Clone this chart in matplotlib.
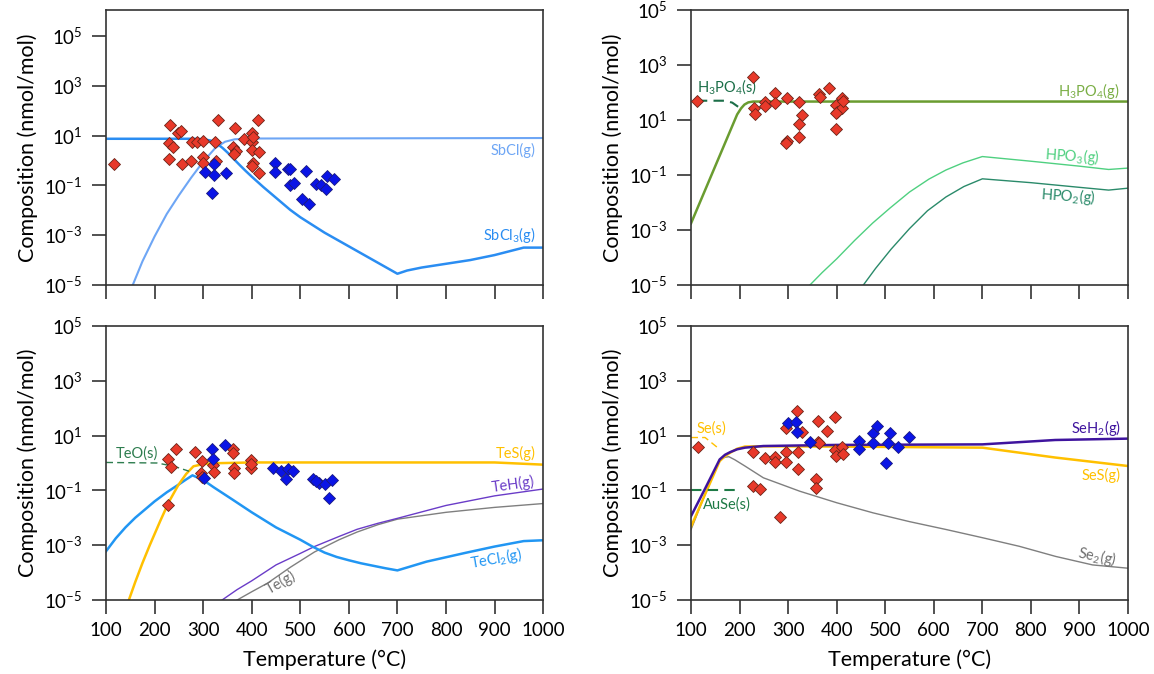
import numpy as np
import matplotlib
matplotlib.use("Agg")
import matplotlib.pyplot as plt
from matplotlib.ticker import NullLocator

plt.rcParams['font.family'] = ['Lato', 'DejaVu Sans']
plt.rcParams['mathtext.fontset'] = 'custom'
plt.rcParams['mathtext.rm'] = 'Lato'
plt.rcParams['mathtext.it'] = 'Lato:italic'
plt.rcParams['mathtext.bf'] = 'Lato:bold'

# ---- values (composition given as log10 nmol/mol) ----
# Sb panel
sbcl3_T = [100, 280, 300, 315, 328, 340, 350, 363, 376, 388, 400, 424, 450, 479, 500, 550, 600, 650, 700, 720, 750, 800, 850, 900, 960, 1000]
sbcl3_log = [0.87, 0.87, 0.85, 0.8, 0.68, 0.5, 0.32, 0.06, -0.2, -0.43, -0.65, -1.07, -1.5, -1.98, -2.28, -2.9, -3.45, -4.0, -4.55, -4.42, -4.3, -4.15, -4.0, -3.8, -3.5, -3.5]
sbcl_T = [155, 175, 200, 225, 250, 275, 300, 325, 345, 365, 400, 1000]
sbcl_log = [-5, -4.05, -3.05, -2.15, -1.4, -0.7, -0.05, 0.5, 0.75, 0.85, 0.88, 0.9]
sb_red_T = [117, 232, 248, 254, 230, 237, 230, 256, 275, 276, 288, 300, 300, 300, 325, 327, 331, 366, 362, 367, 364, 385, 401, 400, 412, 401, 416, 402, 401, 416, 402]
sb_red_log = [-0.16, 1.43, 1.09, 1.2, 0.69, 0.53, 0.07, -0.13, -0.03, 0.75, 0.73, 0.8, 0.13, -0.11, 0.73, -0.04, 1.63, 1.31, 0.53, 0.37, 0.24, 0.87, 1.09, 0.76, 1.63, 0.43, 0.33, -0.11, -0.21, -0.49, 0.95]
sb_blue_T = [304, 323, 322, 347, 319, 448, 448, 474, 478, 479, 488, 511, 504, 517, 532, 543, 554, 570, 552]
sb_blue_log = [-0.47, -0.13, -0.6, -0.51, -1.29, -0.09, -0.47, -0.36, -0.36, -0.97, -0.89, -0.44, -1.56, -1.73, -0.96, -1.0, -0.64, -0.73, -1.13]

# P panel
h3po4g_T = [100, 195, 203, 210, 218, 228, 1000]
h3po4g_log = [-2.76, 1.2, 1.42, 1.56, 1.64, 1.67, 1.67]
h3po4s_T = [112, 170, 185, 197]
h3po4s_log = [1.7, 1.7, 1.63, 1.48]
hpo3_T = [345, 370, 400, 437, 474, 510, 550, 590, 625, 660, 700, 800, 900, 960, 1000]
hpo3_log = [-5, -4.55, -4.05, -3.38, -2.75, -2.2, -1.62, -1.15, -0.82, -0.56, -0.33, -0.5, -0.68, -0.8, -0.75]
hpo2_T = [455, 480, 512, 550, 587, 625, 662, 700, 800, 900, 960, 1000]
hpo2_log = [-5, -4.4, -3.7, -2.95, -2.3, -1.8, -1.42, -1.14, -1.28, -1.45, -1.55, -1.48]
p_red_T = [113, 228, 230, 232, 252, 253, 273, 273, 297, 322, 329, 322, 297, 296, 322, 364, 365, 384, 399, 400, 410, 411, 413, 398, 398]
p_red_log = [1.7, 2.57, 1.42, 1.22, 1.67, 1.52, 1.97, 1.61, 1.79, 1.64, 1.18, 0.85, 0.25, 0.17, 0.37, 1.95, 1.85, 2.16, 1.55, 1.3, 1.42, 1.81, 1.7, 0.67, 1.25]

# Te panel
tes_T = [147, 160, 175, 190, 212, 230, 249, 265, 280, 300, 320, 400, 900, 1000]
tes_log = [-5, -4.35, -3.65, -3.0, -2.1, -1.4, -0.8, -0.4, -0.12, -0.04, -0.01, 0.02, 0.02, -0.06]
teo_T = [100, 205, 240, 271]
teo_log = [0.02, 0.0, -0.12, -0.3]
tecl2_T = [100, 120, 140, 160, 180, 200, 225, 250, 265, 278, 300, 322, 360, 400, 450, 500, 525, 550, 575, 600, 625, 650, 675, 700, 760, 840, 900, 960, 1000]
tecl2_log = [-3.22, -2.75, -2.35, -2.0, -1.7, -1.4, -1.07, -0.78, -0.6, -0.45, -0.62, -0.89, -1.33, -1.8, -2.35, -2.8, -3.05, -3.27, -3.43, -3.55, -3.66, -3.75, -3.84, -3.92, -3.6, -3.28, -3.05, -2.85, -2.82]
teh_T = [339, 370, 400, 450, 500, 529, 580, 617, 660, 700, 800, 900, 1000]
teh_log = [-5, -4.62, -4.3, -3.72, -3.3, -3.05, -2.68, -2.42, -2.2, -2.02, -1.55, -1.2, -0.95]
te_T = [370, 400, 433, 480, 529, 580, 617, 660, 700, 800, 900, 1000]
te_log = [-5, -4.7, -4.38, -3.8, -3.25, -2.8, -2.52, -2.25, -2.05, -1.8, -1.62, -1.48]
te_red_T = [244, 228, 234, 283, 297, 296, 298, 321, 322, 361, 361, 364, 364, 398, 398, 228, 399]
te_red_log = [0.5, 0.15, -0.16, 0.39, 0.07, -0.35, -0.52, -0.07, -0.32, 0.5, 0.38, -0.19, -0.38, 0.11, -0.19, -1.53, -0.05]
te_blue_T = [318, 321, 345, 302, 443, 460, 475, 484, 470, 527, 539, 550, 565, 559, 533]
te_blue_log = [0.51, 0.15, 0.66, -0.54, -0.19, -0.28, -0.23, -0.28, -0.59, -0.58, -0.74, -0.78, -0.62, -1.28, -0.67]

# Se panel
seh2_T = [100, 130, 159, 170, 181, 195, 211, 249, 400, 700, 850, 1000]
seh2_log = [-1.94, -0.9, 0.13, 0.3, 0.4, 0.5, 0.56, 0.62, 0.66, 0.68, 0.84, 0.89]
ses_T = [100, 130, 159, 170, 181, 195, 211, 249, 400, 700, 850, 1000]
ses_log = [-2.33, -1.1, 0.07, 0.25, 0.38, 0.52, 0.6, 0.61, 0.6, 0.56, 0.2, -0.11]
se2_T = [100, 130, 159, 170, 178, 190, 211, 249, 324, 400, 475, 550, 626, 701, 776, 851, 927, 1000]
se2_log = [-2.43, -1.1, 0.13, 0.21, 0.23, 0.12, -0.11, -0.54, -1.03, -1.45, -1.82, -2.14, -2.43, -2.73, -3.04, -3.41, -3.72, -3.84]
ses_solid_T = [100, 129, 157]
ses_solid_log = [0.93, 0.93, 0.53]
ause_T = [100, 193]
ause_log = [-1.0, -1.0]
se_red_T = [115, 227, 227, 242, 252, 272, 272, 283, 296, 296, 296, 319, 321, 321, 328, 357, 358, 362, 362, 363, 381, 396, 397, 398, 411, 412]
se_red_log = [0.59, 0.39, -0.84, -0.95, 0.19, 0.23, 0.03, -1.98, 1.27, 0.39, 0.05, 1.91, 0.39, -0.22, 1.14, -0.58, -0.92, 1.54, 0.78, 0.72, 1.17, 1.69, 0.47, 0.26, 0.59, 0.33]
se_blue_T = [300, 316, 319, 345, 445, 445, 474, 474, 484, 510, 506, 502, 527, 548]
se_blue_log = [1.45, 1.51, 1.14, 0.78, 0.81, 0.5, 1.08, 0.74, 1.36, 1.08, 0.72, -0.01, 0.59, 0.94]

xticks = [100, 200, 300, 400, 500, 600, 700, 800, 900, 1000]
yticks = [1e-5, 1e-3, 1e-1, 1e1, 1e3, 1e5]

RED = "#e8392a"
BLUE = "#0a14e6"
FS = 10.5  # curve labels


def v(a):
    return 10 ** np.array(a)


def style(ax, top, xlabels):
    ax.set_yscale('log')
    ax.set_xlim(100, 1000)
    ax.set_ylim(1e-5, top)
    ax.set_xticks(xticks)
    ax.set_yticks(yticks)
    ax.yaxis.set_minor_locator(NullLocator())
    ax.tick_params(direction='out', length=10, width=1.2, color='#333333')
    ax.tick_params(axis='x', labelsize=13.5, pad=6)
    ax.tick_params(axis='y', labelsize=13.5, pad=7)
    for s in ax.spines.values():
        s.set_color('#333333')
        s.set_linewidth(1.2)
    ax.set_ylabel("Composition (nmol/mol)", fontsize=15.5, labelpad=4)
    if xlabels:
        ax.set_xlabel("Temperature (°C)", fontsize=15.5, labelpad=7)
    else:
        ax.set_xticklabels([])


def points(ax, T, lg, color, edge):
    ax.plot(T, v(lg), linestyle='none', marker='D', markersize=6.2,
            markerfacecolor=color, markeredgecolor=edge, markeredgewidth=0.6, zorder=5)


fig = plt.figure(figsize=(11.54, 6.74), dpi=100)
ax1 = fig.add_axes([0.0919, 0.5772, 0.3787, 0.408])
ax2 = fig.add_axes([0.5988, 0.5772, 0.3787, 0.408])
ax3 = fig.add_axes([0.0919, 0.1098, 0.3787, 0.4065])
ax4 = fig.add_axes([0.5988, 0.1098, 0.3787, 0.4065])

# Sb
ax1.plot(sbcl_T, v(sbcl_log), color="#6ea6f5", lw=1.5)
ax1.plot(sbcl3_T, v(sbcl3_log), color="#2a8df2", lw=1.8)
points(ax1, sb_red_T, sb_red_log, RED, "#6b2318")
points(ax1, sb_blue_T, sb_blue_log, BLUE, "#1a1a80")
ax1.text(985, 10 ** 0.4, "SbCl(g)", color="#6ea6f5", fontsize=FS, ha='right', va='center')
ax1.text(985, 10 ** -3.0, "SbCl$_3$(g)", color="#2a8df2", fontsize=FS, ha='right', va='center')
style(ax1, 1.1e6, False)

# P
ax2.plot(hpo3_T, v(hpo3_log), color="#4fd080", lw=1.0)
ax2.plot(hpo2_T, v(hpo2_log), color="#2a8a6a", lw=1.0)
ax2.plot(h3po4g_T, v(h3po4g_log), color="#6a9c30", lw=1.8)
ax2.plot(h3po4s_T, v(h3po4s_log), color="#1b6e48", lw=1.5, dashes=(5, 3))
points(ax2, p_red_T, p_red_log, RED, "#6b2318")
ax2.text(112, 10 ** 2.2, "H$_3$PO$_4$(s)", color="#1b6e48", fontsize=FS, ha='left', va='center')
ax2.text(982, 10 ** 2.07, "H$_3$PO$_4$(g)", color="#7aae45", fontsize=FS, ha='right', va='center')
ax2.text(942, 10 ** -0.32, "HPO$_3$(g)", color="#4fd080", fontsize=FS, ha='right', va='center', rotation=-4)
ax2.text(934, 10 ** -1.75, "HPO$_2$(g)", color="#2a8a6a", fontsize=FS, ha='right', va='center', rotation=-4)
style(ax2, 1e5, False)

# Te
ax3.plot(te_T, v(te_log), color="#7f7f7f", lw=1.0)
ax3.plot(teh_T, v(teh_log), color="#6a3cc8", lw=1.0)
ax3.plot(tecl2_T, v(tecl2_log), color="#2196f3", lw=1.8)
ax3.plot(tes_T, v(tes_log), color="#ffc000", lw=1.8)
ax3.plot(teo_T, v(teo_log), color="#2e7d4f", lw=1.0, dashes=(5, 3))
points(ax3, te_red_T, te_red_log, RED, "#6b2318")
points(ax3, te_blue_T, te_blue_log, BLUE, "#1a1a80")
ax3.text(120, 10 ** 0.35, "TeO(s)", color="#2e7d4f", fontsize=FS, ha='left', va='center')
ax3.text(985, 10 ** 0.35, "TeS(g)", color="#ffc000", fontsize=FS, ha='right', va='center')
ax3.text(985, 10 ** -0.77, "TeH(g)", color="#6a3cc8", fontsize=FS, ha='right', va='center', rotation=8)
ax3.text(960, 10 ** -3.5, "TeCl$_2$(g)", color="#2196f3", fontsize=FS, ha='right', va='center', rotation=10)
ax3.text(460, 10 ** -4.35, "Te(g)", color="#6f6f6f", fontsize=FS, ha='center', va='center', rotation=30)
style(ax3, 1e5, True)

# Se
ax4.plot(se2_T, v(se2_log), color="#7f7f7f", lw=1.0)
ax4.plot(ses_T, v(ses_log), color="#ffc000", lw=1.8)
ax4.plot(seh2_T, v(seh2_log), color="#3f149e", lw=1.8)
ax4.plot(ses_solid_T, v(ses_solid_log), color="#ffc000", lw=1.0, dashes=(5, 3))
ax4.plot(ause_T, v(ause_log), color="#1e7a46", lw=1.5, dashes=(5, 3))
points(ax4, se_red_T, se_red_log, RED, "#6b2318")
points(ax4, se_blue_T, se_blue_log, BLUE, "#1a1a80")
ax4.text(112, 10 ** 1.26, "Se(s)", color="#ffc000", fontsize=FS, ha='left', va='center')
ax4.text(125, 10 ** -1.52, "AuSe(s)", color="#1e7a46", fontsize=FS, ha='left', va='center')
ax4.text(985, 10 ** 1.26, "SeH$_2$(g)", color="#3f149e", fontsize=FS, ha='right', va='center')
ax4.text(985, 10 ** -0.44, "SeS(g)", color="#ffc000", fontsize=FS, ha='right', va='center')
ax4.text(980, 10 ** -3.39, "Se$_2$(g)", color="#6f6f6f", fontsize=FS, ha='right', va='center', rotation=-12)
style(ax4, 1e5, True)

fig.savefig("out.png", dpi=100)
